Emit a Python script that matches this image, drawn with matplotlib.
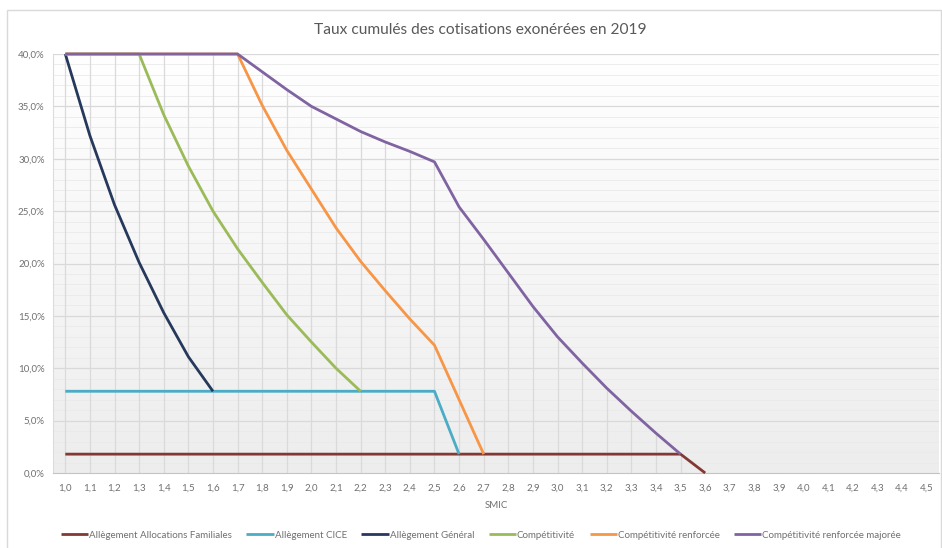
import numpy as np
import matplotlib
matplotlib.use("Agg")
import matplotlib.pyplot as plt
from matplotlib.colors import LinearSegmentedColormap
from matplotlib.patches import Rectangle

plt.rcParams["font.family"] = ["Lato", "DejaVu Sans"]

nan = np.nan

# SMIC multiples shown on the category axis
smic_labels = ["1,0", "1,1", "1,2", "1,3", "1,4", "1,5", "1,6", "1,7", "1,8", "1,9",
               "2,0", "2,1", "2,2", "2,3", "2,4", "2,5", "2,6", "2,7", "2,8", "2,9",
               "3,0", "3,1", "3,2", "3,3", "3,4", "3,5", "3,6", "3,7", "3,8", "3,9",
               "4,0", "4,1", "4,2", "4,3", "4,4", "4,5"]

# Cumulative exempted contribution rates (%) per SMIC multiple
allocations_familiales = [1.8, 1.8, 1.8, 1.8, 1.8, 1.8, 1.8, 1.8, 1.8, 1.8,
                          1.8, 1.8, 1.8, 1.8, 1.8, 1.8, 1.8, 1.8, 1.8, 1.8,
                          1.8, 1.8, 1.8, 1.8, 1.8, 1.8, 0.0, nan, nan, nan,
                          nan, nan, nan, nan, nan, nan]
cice = [7.8, 7.8, 7.8, 7.8, 7.8, 7.8, 7.8, 7.8, 7.8, 7.8,
        7.8, 7.8, 7.8, 7.8, 7.8, 7.8, 1.8, nan, nan, nan,
        nan, nan, nan, nan, nan, nan, nan, nan, nan, nan,
        nan, nan, nan, nan, nan, nan]
general = [40.0, 32.2, 25.6, 20.1, 15.3, 11.1, 7.8, nan, nan, nan,
           nan, nan, nan, nan, nan, nan, nan, nan, nan, nan,
           nan, nan, nan, nan, nan, nan, nan, nan, nan, nan,
           nan, nan, nan, nan, nan, nan]
competitivite = [40.0, 40.0, 40.0, 40.0, 34.2, 29.3, 25.0, 21.4, 18.2, 15.1,
                 12.5, 10.0, 7.8, nan, nan, nan, nan, nan, nan, nan,
                 nan, nan, nan, nan, nan, nan, nan, nan, nan, nan,
                 nan, nan, nan, nan, nan, nan]
renforcee = [40.0, 40.0, 40.0, 40.0, 40.0, 40.0, 40.0, 40.0, 35.1, 30.8,
             27.1, 23.4, 20.2, 17.4, 14.7, 12.2, 7.0, 1.8, nan, nan,
             nan, nan, nan, nan, nan, nan, nan, nan, nan, nan,
             nan, nan, nan, nan, nan, nan]
majoree = [40.0, 40.0, 40.0, 40.0, 40.0, 40.0, 40.0, 40.0, 38.3, 36.6,
           35.0, 33.8, 32.6, 31.6, 30.7, 29.7, 25.4, 22.3, 19.1, 15.9,
           13.0, 10.5, 8.1, 5.9, 3.8, 1.8, nan, nan, nan, nan,
           nan, nan, nan, nan, nan, nan]

series_names = ["Allègement Allocations Familiales", "Allègement CICE",
                "Allègement Général", "Compétitivité",
                "Compétitivité renforcée", "Compétitivité renforcée majorée"]
series_values = [allocations_familiales, cice, general, competitivite,
                 renforcee, majoree]
series_colors = ["#833833", "#4bacc6", "#26395c", "#9bbb59", "#f79646", "#8064a2"]

text_color = "#595959"
tick_color = "#707070"
W, H = 942, 548
fig = plt.figure(figsize=(W / 100, H / 100), dpi=100)

# outer chart frame
fig.patches.append(Rectangle((7 / W, -0.01), 934 / W, 1 - 10 / H + 0.01,
                             transform=fig.transFigure, fill=False,
                             edgecolor="#d9d9d9", linewidth=1.0))

ax = fig.add_axes([53 / W, (H - 473) / H, (939 - 53) / W, (473 - 54) / H])
x = np.arange(len(smic_labels))

# plot-area background: soft vertical gradient
grad = LinearSegmentedColormap.from_list("bg", ["#ededed", "#ffffff"])
ax.imshow(np.linspace(0, 1, 256).reshape(-1, 1), cmap=grad, aspect="auto",
          origin="lower", extent=(-0.5, len(smic_labels) - 0.5, 0, 40),
          zorder=0)
ax.set_xlim(-0.5, len(smic_labels) - 0.5)
ax.set_ylim(0, 40)

# horizontal gridlines (minor every 1 %, major every 5 %)
for v in range(1, 41):
    if v % 5 == 0:
        ax.axhline(v, color="#d9d9d9", lw=0.9, zorder=1)
    else:
        ax.axhline(v, color="#eaeaea", lw=0.6, zorder=1)

# drop lines from the highest series down to the axis
stack = np.array(series_values, dtype=float)
top = np.nanmax(np.where(np.isnan(stack), -1, stack), axis=0)
mask = top > 0
ax.vlines(x[mask], 0, top[mask], color="#dadada", lw=0.9, zorder=1.5)

for name, vals, col in zip(series_names, series_values, series_colors):
    ax.plot(x, vals, color=col, lw=2.0, label=name, zorder=3,
            solid_capstyle="butt", clip_on=False)

for s in ["top", "right"]:
    ax.spines[s].set_visible(False)
ax.spines["left"].set_color("#dcdcdc")
ax.spines["bottom"].set_color("#c4c4c4")
ax.spines["left"].set_linewidth(0.8)
ax.spines["bottom"].set_linewidth(0.8)

yt = [0, 5, 10, 15, 20, 25, 30, 35, 40]
ax.set_yticks(yt)
ax.set_yticklabels([f"{v:.1f}%".replace(".", ",") for v in yt])
ax.set_xticks(x)
ax.set_xticklabels(smic_labels)
ax.tick_params(axis="both", length=0, labelsize=7, colors=tick_color)
ax.tick_params(axis="y", pad=6)
ax.tick_params(axis="x", pad=8)
ax.set_xlabel("SMIC", fontsize=7, color=tick_color, labelpad=6)

fig.text(480 / W, 1 - 30 / H, "Taux cumulés des cotisations exonérées en 2019",
         ha="center", va="center", fontsize=11.2, color=text_color)

fig.legend(loc="center", bbox_to_anchor=(481 / W, 1 - 535 / H), ncol=6,
           frameon=False, fontsize=7.0, labelcolor=tick_color,
           handlelength=2.8, handletextpad=0.1, columnspacing=1.5)

fig.savefig("out.png", dpi=100)
